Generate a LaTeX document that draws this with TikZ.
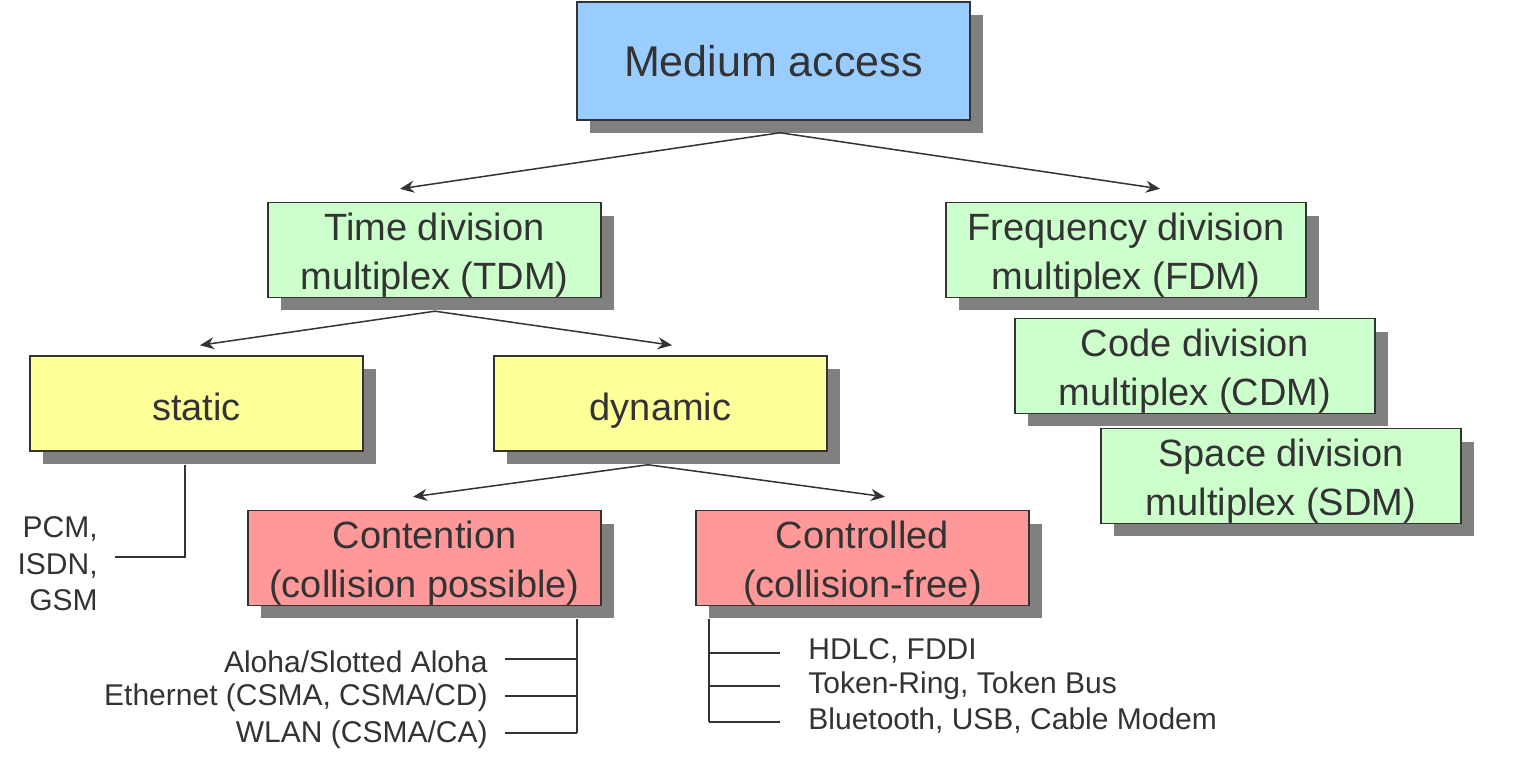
\documentclass[tikz,border=0pt]{standalone}
\usepackage{fontspec}
\setmainfont{Liberation Sans}
\usetikzlibrary{shadows,arrows.meta,calc}
\definecolor{txt}{HTML}{333333}
\definecolor{shadowgray}{HTML}{808080}
\definecolor{cblue}{HTML}{99CCFF}
\definecolor{cgreen}{HTML}{CCFFCC}
\definecolor{cyellow}{HTML}{FFFF99}
\definecolor{cred}{HTML}{FF9999}
\newcommand{\topstrut}{\rule{0pt}{19pt}}
\begin{document}
\begin{tikzpicture}[x=0.5pt,y=-0.5pt,
  box/.style={draw=txt, line width=0.75pt, text=txt, align=center, inner sep=0pt,
    drop shadow={shadow xshift=6.5pt, shadow yshift=-6.5pt, fill=shadowgray, draw=none, opacity=1},
    font=\fontsize{19}{24.5}\selectfont},
  oneline/.style={text height=17pt, text depth=0.5pt},
  arr/.style={-{Stealth[length=7pt,width=6pt]}, line width=0.75pt, draw=txt},
  ln/.style={line width=0.75pt, draw=txt},
  lbl/.style={text=txt, font=\fontsize{15}{18.25}\selectfont, inner sep=0pt}]
\useasboundingbox (0,0) rectangle (1526,770);
% boxes
\node[box, fill=cblue, minimum width=196.5pt, minimum height=59pt, text height=16pt, text depth=0pt, font=\fontsize{21.5}{26}\selectfont] (ma) at (773.5,61) {Medium access};
\node[box, fill=cgreen, minimum width=166.5pt, minimum height=47pt] (tdm) at (434.5,250) {\topstrut Time division\\multiplex (TDM)};
\node[box, fill=cgreen, minimum width=180pt, minimum height=47pt] (fdm) at (1126,250) {\topstrut Frequency division\\multiplex (FDM)};
\node[box, fill=cgreen, minimum width=180pt, minimum height=47pt] (cdm) at (1195,366) {\topstrut Code division\\multiplex (CDM)};
\node[box, fill=cgreen, minimum width=180pt, minimum height=47pt] (sdm) at (1281,476) {\topstrut Space division\\multiplex (SDM)};
\node[box, oneline, fill=cyellow, minimum width=166.5pt, minimum height=47.5pt] (static) at (196.5,403.5) {static};
\node[box, oneline, fill=cyellow, minimum width=166.5pt, minimum height=47.5pt] (dynamic) at (660.5,403.5) {dynamic};
\node[box, fill=cred, minimum width=176.5pt, minimum height=47pt] (cont) at (424.5,558) {\topstrut Contention\\(collision possible)};
\node[box, fill=cred, minimum width=166.5pt, minimum height=47pt] (ctrl) at (862.5,558) {\topstrut Controlled\\(collision-free)};
% arrows
\coordinate (ma-s) at ($(ma.south)+(6.5,12)$);
\coordinate (tdm-n) at ($(tdm.north)+(-34.5,-13)$);
\coordinate (fdm-n) at ($(fdm.north)+(34,-13)$);
\draw[arr] (ma-s) -- (tdm-n);
\draw[arr] (ma-s) -- (fdm-n);
\coordinate (tdm-s) at ($(tdm.south)+(0.5,13)$);
\coordinate (static-n) at ($(static.north)+(3.5,-10)$);
\coordinate (dynamic-n) at ($(dynamic.north)+(11.5,-10)$);
\draw[arr] (tdm-s) -- (static-n);
\draw[arr] (tdm-s) -- (dynamic-n);
\coordinate (dyn-s) at ($(dynamic.south)+(-12.5,13)$);
\coordinate (cont-n) at ($(cont.north)+(-11.5,-13)$);
\coordinate (ctrl-n) at ($(ctrl.north)+(22.5,-13)$);
\draw[arr] (dyn-s) -- (cont-n);
\draw[arr] (dyn-s) -- (ctrl-n);
% static list
\node[lbl, anchor=east, align=right] (pcm) at (98,564) {PCM,\\ISDN,\\GSM};
\coordinate (st-s) at (185,465);
\draw[ln] (st-s) |- ($(pcm.east)+(17,-7)$);
% contention list
\node[lbl, anchor=east] (aloha) at (488,662) {Aloha/Slotted Aloha};
\node[lbl, anchor=east] (eth) at (488,698) {Ethernet (CSMA, CSMA/CD)};
\node[lbl, anchor=east] (wlan) at (488,735) {WLAN (CSMA/CA)};
\coordinate (co-s) at (577,619);
\coordinate (co-b) at (577,733);
\draw[ln] (co-s) -- (co-b);
\draw[ln] ($(aloha.east)+(17,-3)$) -- ++(72,0);
\draw[ln] ($(eth.east)+(17,-2)$) -- ++(72,0);
\draw[ln] ($(wlan.east)+(17,-2)$) -- (co-b);
% controlled list
\node[lbl, anchor=west] (hdlc) at (808,651) {HDLC, FDDI};
\node[lbl, anchor=west] (token) at (808,686) {Token-Ring, Token Bus};
\node[lbl, anchor=west] (bt) at (808,721) {Bluetooth, USB, Cable Modem};
\coordinate (cr-s) at (709,619);
\coordinate (cr-b) at (709,722);
\draw[ln] (cr-s) -- (cr-b);
\draw[ln] ($(hdlc.west)+(-28,2)$) -- ++(-71,0);
\draw[ln] ($(token.west)+(-28,0)$) -- ++(-71,0);
\draw[ln] ($(bt.west)+(-28,1)$) -- (cr-b);
\end{tikzpicture}
\end{document}
